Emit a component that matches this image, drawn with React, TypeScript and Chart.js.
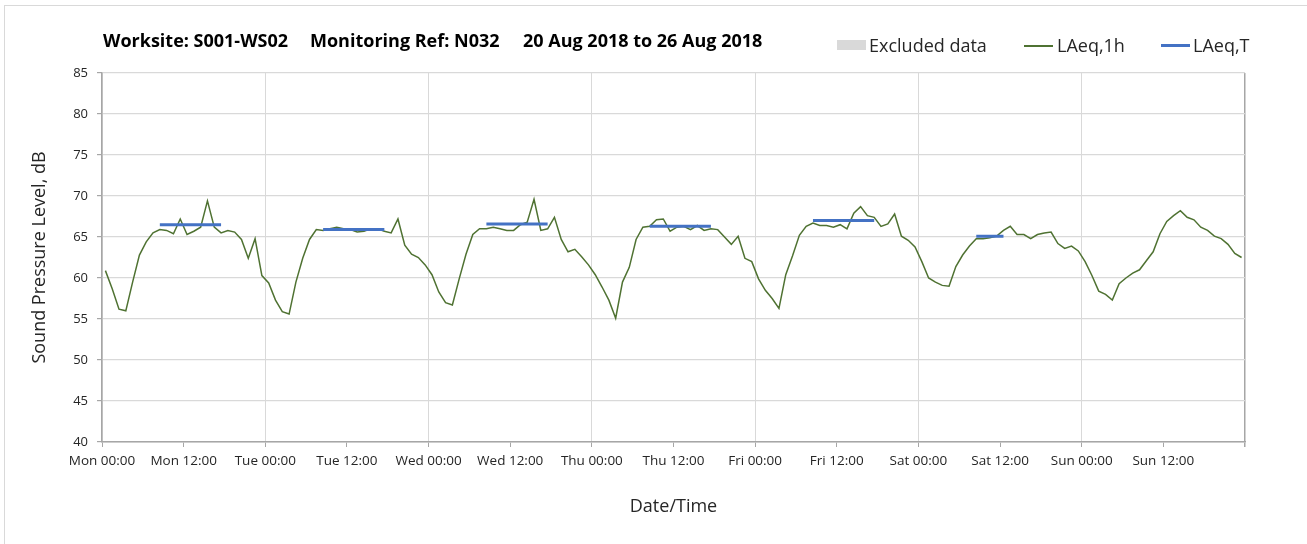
import React, { useEffect, useRef } from 'react';
import { Chart, registerables } from 'chart.js';

Chart.register(...registerables);

const dayNames = ['Mon', 'Tue', 'Wed', 'Thu', 'Fri', 'Sat', 'Sun'];

const monValues = [60.9, 58.7, 56.2, 56.0, 59.5, 62.8, 64.4, 65.5, 65.9, 65.8, 65.4, 67.2, 65.3, 65.7, 66.2, 69.4, 66.2, 65.5, 65.8, 65.6, 64.7, 62.4, 64.8, 60.3];
const tueValues = [59.4, 57.3, 55.9, 55.6, 59.5, 62.4, 64.7, 65.9, 65.8, 66.0, 66.2, 66.0, 65.9, 65.6, 65.7, 66.0, 66.0, 65.7, 65.5, 67.2, 64.0, 62.9, 62.5, 61.6];
const wedValues = [60.4, 58.3, 57.0, 56.7, 59.9, 62.9, 65.3, 66.0, 66.0, 66.2, 66.0, 65.8, 65.8, 66.5, 66.8, 69.6, 65.8, 66.0, 67.4, 64.7, 63.2, 63.5, 62.6, 61.6];
const thuValues = [60.4, 58.9, 57.3, 55.1, 59.5, 61.3, 64.7, 66.2, 66.3, 67.1, 67.2, 65.7, 66.2, 66.3, 65.9, 66.4, 65.8, 66.0, 65.9, 65.0, 64.1, 65.1, 62.4, 62.0];
const friValues = [59.9, 58.5, 57.5, 56.3, 60.4, 62.7, 65.2, 66.3, 66.7, 66.4, 66.4, 66.2, 66.5, 66.0, 67.9, 68.7, 67.6, 67.4, 66.3, 66.6, 67.8, 65.1, 64.6, 63.8];
const satValues = [62.0, 60.0, 59.5, 59.1, 59.0, 61.4, 62.8, 63.9, 64.8, 64.8, 64.9, 65.1, 65.8, 66.3, 65.3, 65.3, 64.8, 65.3, 65.5, 65.6, 64.2, 63.6, 63.9, 63.3];
const sunValues = [62.0, 60.3, 58.4, 58.0, 57.3, 59.3, 60.0, 60.6, 61.0, 62.1, 63.2, 65.4, 66.9, 67.6, 68.2, 67.4, 67.1, 66.2, 65.8, 65.1, 64.8, 64.1, 63.0, 62.5];

const hourlyByDay = [monValues, tueValues, wedValues, thuValues, friValues, satValues, sunValues];

// LAeq,T per day (Mon..Sat), drawn over the hours start..end
const laeqTValues = [66.5, 65.9, 66.6, 66.3, 67.0, 65.1];
const laeqTStartHour = [8, 8, 8, 8, 8, 8];
const laeqTEndHour = [17, 17, 17, 17, 17, 12];

const yMin = 40;
const yMax = 85;
const yStep = 5;
const xStepHours = 12;

const titleParts = ['Worksite: S001-WS02', 'Monitoring Ref: N032', '20 Aug 2018 to 26 Aug 2018'];
const legendLabels = ['Excluded data', 'LAeq,1h', 'LAeq,T'];
const yTitle = 'Sound Pressure Level, dB';
const xTitle = 'Date/Time';

const FONT = '"Open Sans", "Noto Sans", sans-serif';
const AXIS_GREY = '#a6a6a6';
const GRID_GREY = '#d9d9d9';
const GREEN = '#4f7232';
const BLUE = '#4472c4';

export default function App() {
  const canvasRef = useRef<HTMLCanvasElement | null>(null);

  useEffect(() => {
    const canvas = canvasRef.current;
    if (!canvas) return;

    const hourly: { x: number; y: number }[] = [];
    hourlyByDay.forEach((day, d) => {
      day.forEach((v, h) => hourly.push({ x: d * 24 + h + 0.5, y: v }));
    });

    const laeqT: { x: number; y: number | null }[] = [];
    laeqTValues.forEach((v, d) => {
      for (let h = laeqTStartHour[d]; h <= laeqTEndHour[d]; h++) {
        laeqT.push({ x: d * 24 + h + 0.5, y: v });
      }
      laeqT.push({ x: d * 24 + laeqTEndHour[d] + 1, y: null });
    });

    const chart = new Chart(canvas, {
      type: 'line',
      data: {
        datasets: [
          {
            label: legendLabels[1],
            data: hourly,
            borderColor: GREEN,
            borderWidth: 1.5,
            pointRadius: 0,
            tension: 0,
            order: 2,
          },
          {
            label: legendLabels[2],
            data: laeqT,
            borderColor: BLUE,
            borderWidth: 3,
            pointRadius: 0,
            tension: 0,
            spanGaps: false,
            borderCapStyle: 'butt',
            order: 1,
          },
        ],
      },
      options: {
        animation: false,
        responsive: false,
        devicePixelRatio: 1,
        parsing: false,
        normalized: true,
        layout: { padding: { left: 0, top: 73, right: 62, bottom: 0 } },
        plugins: {
          legend: { display: false },
          title: { display: false },
          tooltip: { enabled: false },
        },
        scales: {
          x: {
            type: 'linear',
            min: 0,
            max: 168,
            afterFit: (scale: any) => {
              scale.height = 102;
            },
            border: { display: true, color: AXIS_GREY, width: 1.5 },
            grid: {
              drawTicks: true,
              tickLength: 5,
              color: (ctx: any) => {
                const v = ctx.tick ? ctx.tick.value : 0;
                if (v === 168) return AXIS_GREY;
                if (v % 24 === 0) return GRID_GREY;
                return 'rgba(0,0,0,0)';
              },
              lineWidth: (ctx: any) => {
                const v = ctx.tick ? ctx.tick.value : 0;
                return v === 168 ? 1.5 : 1;
              },
              tickColor: AXIS_GREY,
            },
            ticks: {
              stepSize: xStepHours,
              autoSkip: false,
              maxRotation: 0,
              minRotation: 0,
              padding: 6,
              color: '#262626',
              font: { family: FONT, size: 13.5 },
              callback: (value: any) => {
                const v = Number(value);
                if (v >= 168) return '';
                const day = dayNames[Math.floor(v / 24)];
                const hh = v % 24 === 0 ? '00' : '12';
                return `${day} ${hh}:00`;
              },
            },
            title: {
              display: true,
              text: xTitle,
              color: '#262626',
              font: { family: FONT, size: 18 },
              padding: { top: 0, bottom: 26 },
            },
          },
          y: {
            type: 'linear',
            min: yMin,
            max: yMax,
            afterFit: (scale: any) => {
              scale.width = 102;
            },
            border: { display: true, color: AXIS_GREY, width: 1.5 },
            grid: {
              color: GRID_GREY,
              lineWidth: 1.2,
              drawTicks: true,
              tickLength: 5,
              tickColor: AXIS_GREY,
            },
            ticks: {
              stepSize: yStep,
              padding: 9,
              color: '#262626',
              font: { family: FONT, size: 13 },
            },
            title: {
              display: true,
              text: yTitle,
              color: '#262626',
              font: { family: FONT, size: 18 },
              padding: { top: 29, bottom: 0 },
            },
          },
        },
      },
    });

    return () => chart.destroy();
  }, []);

  const titleStyle: React.CSSProperties = {
    position: 'absolute',
    top: 28,
    fontFamily: FONT,
    fontWeight: 700,
    fontSize: 18,
    color: '#000',
    whiteSpace: 'nowrap',
    lineHeight: '24px',
  };
  const legendText: React.CSSProperties = {
    position: 'absolute',
    top: 32,
    fontFamily: FONT,
    fontSize: 18,
    color: '#262626',
    whiteSpace: 'nowrap',
    lineHeight: '26px',
  };

  return (
    <div style={{ position: 'fixed', left: 0, top: 0, width: 1307, height: 544, background: '#fff', overflow: 'hidden' }}>
      <div style={{ position: 'absolute', left: 4, top: 5, width: 1320, height: 560, border: '1px solid #d9d9d9', boxSizing: 'border-box' }} />
      <canvas ref={canvasRef} width={1307} height={544} style={{ position: 'absolute', left: 0, top: 0, width: 1307, height: 544 }} />
      <div style={{ ...titleStyle, left: 103 }}>{titleParts[0]}</div>
      <div style={{ ...titleStyle, left: 310 }}>{titleParts[1]}</div>
      <div style={{ ...titleStyle, left: 523 }}>{titleParts[2]}</div>

      <div style={{ position: 'absolute', left: 837, top: 40, width: 29, height: 10, background: GRID_GREY }} />
      <div style={{ ...legendText, left: 869 }}>{legendLabels[0]}</div>
      <div style={{ position: 'absolute', left: 1024, top: 45, width: 29, height: 1.5, background: GREEN }} />
      <div style={{ ...legendText, left: 1057 }}>{legendLabels[1]}</div>
      <div style={{ position: 'absolute', left: 1161, top: 44, width: 29, height: 3, background: BLUE }} />
      <div style={{ ...legendText, left: 1193 }}>{legendLabels[2]}</div>
    </div>
  );
}
